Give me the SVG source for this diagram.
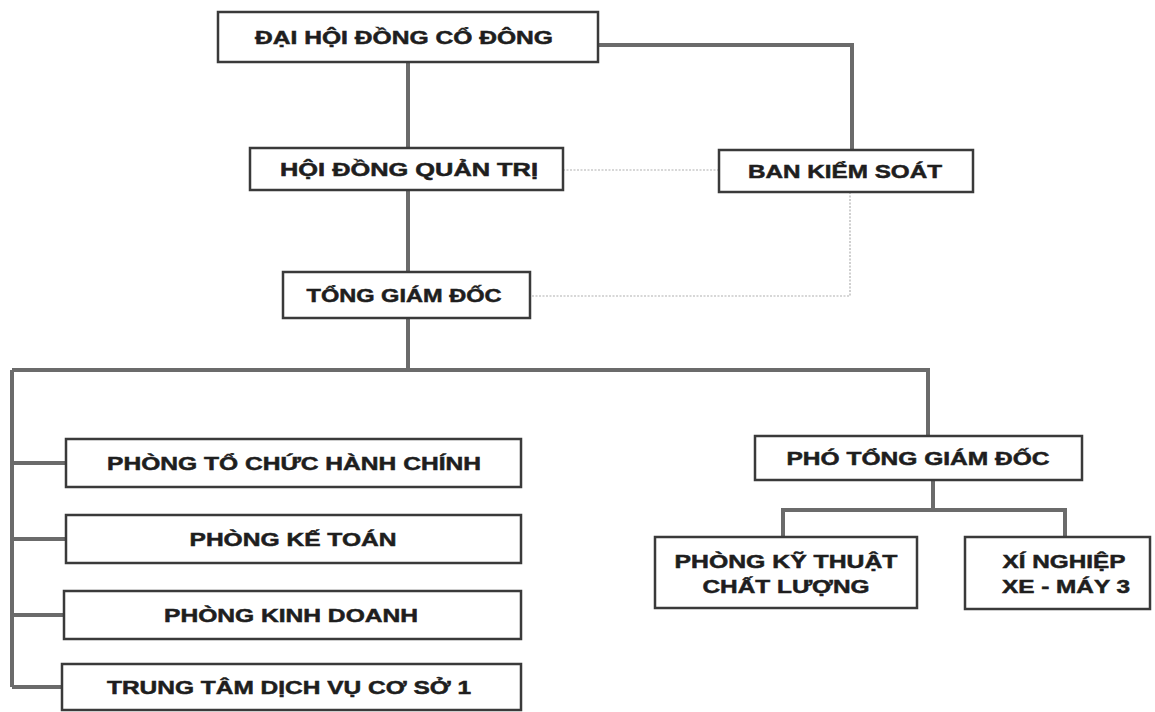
<svg xmlns="http://www.w3.org/2000/svg" width="1155" height="712" viewBox="0 0 1155 712">
<style>
.box{fill:#fff;stroke:#3a3a3a;stroke-width:2.5}
.t{font-family:"Liberation Sans",Arial,sans-serif;font-weight:bold;font-size:18.5px;fill:#1e1e1e;stroke:#1e1e1e;stroke-width:0.5;text-anchor:middle}
.ln{fill:none;stroke:#6b6b6b;stroke-width:4}
.dot{fill:none;stroke:#b0b0b0;stroke-width:1.2;stroke-dasharray:2 1.5}
</style>
<rect width="1155" height="712" fill="#fff"/>
<g id="connectors">
<path class="ln" d="M598 45 H852 V150"/>
<path class="ln" d="M408 62 V148 M408 190 V272 M408 318 V370"/>
<path class="ln" d="M12 370 H928 V436"/>
<path class="ln" d="M12 370 V687 M12 463 H66 M12 539 H66 M12 615 H64 M12 687 H62"/>
<path class="ln" d="M933 480 V510 M783 537 V510 H1065 V537"/>
<path class="dot" d="M563 170 H719"/>
<path class="dot" d="M850 192 V296 H530"/>
</g>
<g id="n1"><rect class="box" x="218" y="12" width="380" height="50"/><text class="t" x="404" y="43.5" textLength="298" lengthAdjust="spacingAndGlyphs">ĐẠI HỘI ĐỒNG CỔ ĐÔNG</text></g>
<g id="n2"><rect class="box" x="250" y="148" width="313" height="42"/><text class="t" x="409" y="175.5" textLength="258" lengthAdjust="spacingAndGlyphs">HỘI ĐỒNG QUẢN TRỊ</text></g>
<g id="n3"><rect class="box" x="719" y="150" width="254" height="42"/><text class="t" x="845" y="177.5" textLength="194" lengthAdjust="spacingAndGlyphs">BAN KIỂM SOÁT</text></g>
<g id="n4"><rect class="box" x="283" y="272" width="247" height="46"/><text class="t" x="404" y="301.5" textLength="195" lengthAdjust="spacingAndGlyphs">TỔNG GIÁM ĐỐC</text></g>
<g id="n5"><rect class="box" x="755" y="436" width="327" height="44"/><text class="t" x="918" y="464.5" textLength="263" lengthAdjust="spacingAndGlyphs">PHÓ TỔNG GIÁM ĐỐC</text></g>
<g id="n6"><rect class="box" x="655" y="537" width="262" height="71"/><text class="t" x="786" y="568" textLength="223" lengthAdjust="spacingAndGlyphs">PHÒNG KỸ THUẬT</text><text class="t" x="786" y="593" textLength="167" lengthAdjust="spacingAndGlyphs">CHẤT LƯỢNG</text></g>
<g id="n7"><rect class="box" x="965" y="537" width="185" height="72"/><text class="t" x="1064" y="568" textLength="123" lengthAdjust="spacingAndGlyphs">XÍ NGHIỆP</text><text class="t" x="1066" y="593" textLength="128" lengthAdjust="spacingAndGlyphs">XE - MÁY 3</text></g>
<g id="n8"><rect class="box" x="66" y="439" width="455" height="48"/><text class="t" x="294" y="469.5" textLength="374" lengthAdjust="spacingAndGlyphs">PHÒNG TỔ CHỨC HÀNH CHÍNH</text></g>
<g id="n9"><rect class="box" x="66" y="515" width="455" height="48"/><text class="t" x="293" y="545.5" textLength="207" lengthAdjust="spacingAndGlyphs">PHÒNG KẾ TOÁN</text></g>
<g id="n10"><rect class="box" x="64" y="591" width="457" height="48"/><text class="t" x="291" y="621.5" textLength="254" lengthAdjust="spacingAndGlyphs">PHÒNG KINH DOANH</text></g>
<g id="n11"><rect class="box" x="62" y="664" width="459" height="46"/><text class="t" x="289" y="693.5" textLength="364" lengthAdjust="spacingAndGlyphs">TRUNG TÂM DỊCH VỤ CƠ SỞ 1</text></g>
</svg>
